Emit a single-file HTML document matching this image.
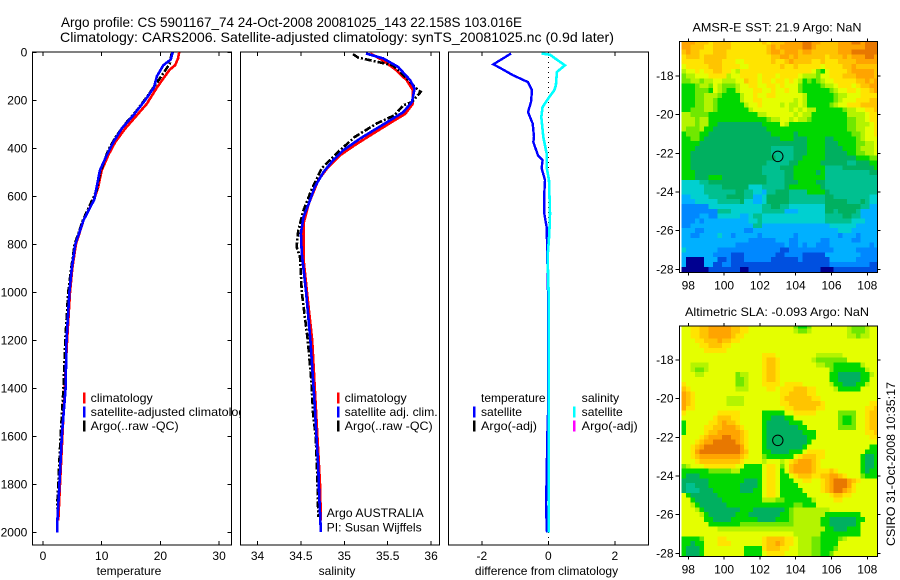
<!DOCTYPE html>
<html>
<head>
<meta charset="utf-8">
<title>Argo profile</title>
<style>
html,body{margin:0;padding:0;background:#fff;}
svg{display:block;font-family:"Liberation Sans",sans-serif;fill:#000;}
text{font-size:12px;}
</style>
</head>
<body>
<svg id="fig" width="900" height="580" viewBox="0 0 900 580" xmlns="http://www.w3.org/2000/svg">
<rect x="0" y="0" width="900" height="580" fill="#fff"/>
<text x="61" y="27" style="font-size:14px" textLength="461" lengthAdjust="spacingAndGlyphs">Argo profile: CS 5901167_74 24-Oct-2008 20081025_143 22.158S 103.016E</text>
<text x="60" y="42" style="font-size:14px" textLength="554" lengthAdjust="spacingAndGlyphs">Climatology: CARS2006. Satellite-adjusted climatology: synTS_20081025.nc (0.9d later)</text>
<g id="p1"></g>
<g id="p2"></g>
<g id="p3"></g>
<g id="m1"></g>
<g id="m2"></g>
<text x="692.5" y="31.5" textLength="169" lengthAdjust="spacingAndGlyphs">AMSR-E SST: 21.9 Argo: NaN</text>
<text x="685" y="316" textLength="184" lengthAdjust="spacingAndGlyphs">Altimetric SLA: -0.093 Argo: NaN</text>
<text transform="translate(895,546) rotate(-90)" textLength="164" lengthAdjust="spacingAndGlyphs">CSIRO 31-Oct-2008 10:35:17</text>
</svg>
<script>
// ---- chart data ----
var depthTicks = [0,200,400,600,800,1000,1200,1400,1600,1800,2000];
var tempTicks = [0,10,20,30];
var salTicks = [34,34.5,35,35.5,36];
var diffTicks = [-2,0,2];
var lonTicks = [98,100,102,104,106,108];
var latTicks = [18,20,22,24,26,28];

var tempClimDepth = [0,26,54,72,109,147,214,262,318,374,429,492,561,612,700,800,900,1000,1200,1400,1600,1800,1950];
var tempClimValue = [23.2,23,22.5,21.6,20.5,19.4,17.7,16,14,12.3,11.1,10,9.4,8.7,6.9,5.6,5,4.6,4.1,3.7,3.3,2.9,2.6];
var tempSatDepth = [0,30,54,100,147,200,262,318,374,429,492,561,612,700,800,900,1000,1200,1400,1600,1800,1950,2000];
var tempSatValue = [22.1,21.75,20.5,19.4,18.9,17.4,15.4,13.4,12,10.85,9.7,9.15,8.75,6.9,5.5,4.9,4.5,4,3.85,3.2,2.8,2.45,2.45];
var tempArgoDepth = [5,47,109,186,242,290,346,408,505,575,700,800,900,1000,1200,1400,1600,1800,1900];
var tempArgoValue = [21.9,21.6,19.9,17.7,16,14.3,12.55,11.1,9.7,9.15,6.8,5.4,4.8,4.3,3.8,3.5,3,2.6,2.4];

var salClimDepth = [5,35,75,117,158,214,257,294,339,387,429,485,533,631,714,860,1000,1200,1400,1600,1800,1950];
var salClimValue = [35.3,35.45,35.6,35.72,35.79,35.79,35.7,35.53,35.33,35.12,34.95,34.8,34.7,34.59,34.53,34.53,34.57,34.63,34.66,34.69,34.72,34.73];
var salSatDepth = [5,26,61,117,151,207,249,283,318,360,408,450,499,561,631,686,755,839,1000,1200,1367,1478,1603,1728,1838,1999];
var salSatValue = [35.25,35.45,35.62,35.76,35.81,35.78,35.68,35.53,35.37,35.18,34.99,34.87,34.76,34.66,34.59,34.53,34.5,34.51,34.56,34.61,34.64,34.66,34.68,34.7,34.71,34.73];
var salArgoDepth = [8,22,36,54,109,150,165,207,221,262,297,353,415,483,575,658,742,811,853,1000,1200,1367,1505,1603,1783,1936];
var salArgoValue = [35.1,35.16,35.33,35.56,35.72,35.83,35.88,35.78,35.68,35.58,35.37,35.12,34.93,34.74,34.62,34.53,34.47,34.45,34.49,34.51,34.58,34.62,34.64,34.67,34.69,34.7];

var diffTempDepth = [5,50,72,96,124,158,207,249,297,353,374,429,450,483,533,589,672,728,783,1000,1505,1600,1783,1880,1962,2000];
var diffTempValue = [-1.12,-1.65,-1.36,-1.06,-0.61,-0.49,-0.52,-0.61,-0.47,-0.43,-0.45,-0.31,-0.17,-0.2,-0.1,-0.12,-0.12,-0.05,-0.04,-0.01,-0.01,-0.03,-0.05,-0.07,-0.05,-0.04];
var diffSalDepth = [5,10,30,54,82,137,158,192,228,270,353,421,478,533,672,756,853,1000,1500,2000];
var diffSalValue = [-0.2,0.05,0.25,0.5,0.26,0.23,0.18,0,-0.17,-0.21,-0.15,-0.05,-0.05,0.02,0.05,0.03,-0.02,0.01,0.01,0.01];

var colorLevels = {'0':'#000090','1':'#0050e0','2':'#0088ff','3':'#00b0ff','4':'#00d0d0','5':'#00c090','6':'#00b060','7':'#00d800','8':'#70e800','9':'#b4f400','a':'#e4ff00','b':'#ffe400','c':'#ffc400','d':'#ffa400','e':'#e87800'};

var sstRows = [
"dddcccbccccbbbbbbbcbcccddddeeddccccdddeedeee",
"ddcccbbccccbbbbbbbbcdcdddddeedcccccddddddeee",
"cdccbbbcccbbbbbbbbbcddcdddcddccccccdddeeeeee",
"bcccbcccccbbbbbbbbbbccddcdccccccbcccdcdddeed",
"bbbbbccccbbbaabbbbbbcbbcdccccbbcbbbccccddddd",
"abbbbbcccbbbbaabbbbbbbcbbcbbbbbabbbbccdccccc",
"9aababbccbba9bbbbbbbbbbbbbbbba87abbbbcdddddc",
"899aaabbbb9aabbbbabbbabbbba9998aabbbcccddddc",
"8899899aa999aacbbabbabbaba978789aabbbbbccdcd",
"7778998a98889aabbaabbabaaa87777899abbbabccdd",
"7778887a98779aaabbaabaabaa877777789aabbabbcd",
"77788999877779aabaabbaaaaaa9777777899aaabbbb",
"77788998777779aabbaaaaaaa9a977777789aaabbbcc",
"777889987777779aabaaaa9a99a97777789aabbbcccc",
"7788899877777779aaaaaaaa9a9a99777777899aabbc",
"9988887777777777799aaaaaa9a99777777779999abb",
"99989977777777777778 9aa9a998777777778899abb".replace(' ','9'),
"99989977666666666677 7a97777777777777889 9ab".replace(' ','7').replace(' ','9'),
"98889776666666666667777777777777777778899aab",
"78887766666666666666777776777777777777889aab",
"77887666666666666666667776667777667777789aaa",
"7777666666666666666666666666777766677778899a",
"7776666666666666666655555666777766667778999a",
"7766666666666666666655555666777766666778899a",
"77666666666666666666655556677777666666677788",
"77666666666666666665555566777776666665566677",
"77666666666666666655556667777777555566666667",
"77766666666666666655555667777767555555555566",
"77766677766666666665555667777777555555555555",
"44445566666666666665555666777766555555555555",
"44444555566666644455555677777776555555555555",
"44444555555566554435566655557777655555555555",
"33444455556666553346666655555555665555555544",
"33344444555556443346666655555555666665556544",
"22222244444444444455665544444444666666665533",
"22222222555444444455555333444444665666653333",
"22223322444443345544444444444444555566553333",
"22232333333333344544444444444444555555444333",
"22333333333333335533333333333333344444433333",
"33322333333333223333333333333333333444333333",
"33223333433233333233333332333333333233323333",
"33333333333333322222233322333332233333223333",
"33333333333322222222222322323322233333333323",
"43333333222222222222221122222222223333322222",
"33333332222111222222211222211111333333332222",
"30000333112111222222111111211111133333322222",
"30000331122111111111111111111111122222222211",
"00000011111110011111111111111110001111111111"
];

var slaRows = [
"aabbccdddddccbbaaaaaaaaaa8778aaaaaaaa98889aa",
"aabbccdddddccbbaaaaaaaaaa9889aaaaaaaa98889aa",
"aabbccdddddcbbaaaaaaaaaaaaaaaaaaaaaaa99899aa",
"aaabbcccdccbbaaaaaaaaaaaaaaaaaaaaaaaaaaaaaaa",
"aaaabbcccbbaaaaaaaaaaaaaaaaaaaaaaaaaaaaaaaaa",
"aaaaabbbbbaaaaaaaaaaaaaaaaaaaaaaaaaaaaaaaaaa",
"aaaaaaaaaaaaaaaaaabbbaaaaaaaaa999999aaaaaaaa",
"aaaaaaaaaaaaaaaaaabccbaaaaaaa98888888aaaaaaa",
"aa9999aaaaaaaaaaaabccbaaaaaaaa9988777777 9aaa".replace(' ',''),
"aa9889aaaaaaaaaaaabccbaaaaaaaaaaa87777777 9aa".replace(' ',''),
"aaa99aaaaaaa899aaabccbaaaaaaaaaaa7766666779a",
"aaaaaaaaaaaa889aaabccbaaaaaaaaaaa7766666 77aa".replace(' ',''),
"baaaaaaaaaaa889aaabbbbabbbbaaaaaa97766677 9aa".replace(' ',''),
"cbaaaaaaaaaa999aaaabbabbbcccbbaaaa977777aaaa",
"dcbaaaaaaaaaaaaaaaaaaabbccccbbaaaaaaaaaaaaaa",
"dcbaaaaaaa9999aaaaaaaabccccccbbaaaaaaaaaaaaa",
"dcbaaaaaaa9999aaaaaaaabbcccccccbaaaaaaaaaabb",
"dbbaaaaaaaaaaaaaaaaaaaabbcccccbbaaaaaaaaabbc",
"baaaaaaabbbbbaaaaa77777aabbbbbaaaaa8888aabcc",
"aaaaaaabcccbbaaaaa7766677aaaaaaaaaa8778aabcc",
"7aaaaabbcdccbaaaaa766666777aaaaaaaa8778aabcc",
"7aaaabbccdddcbaaaa7666666677aaaaaaa8888aabcc",
"7aaaabccdddddcbaaa766666666777aaaaaaaaaaabbc",
"aaaabcdddeeddcbaaa766666666677aaaaaaaaaaaabb",
"aaabcddeeeeedcbaaa76666666667aaaaaaaaaaaaaaa",
"aabcdeeeeeeeedbaaa7666666667aaaaaaaaaaaaaa77",
"aabdeeeeeeeeedcaaa776666777abbbbaaaaaaaaa777",
"aabcdddddddddcbaaa8777777abcccbbaaaaaaaa7667",
"aaabcccccccccbaaaa9aaa9abcdddcbaaaaaaaaa7667",
"89aaabbbbbbbaa7777abba8acddddcbaaaaaaaaa7667",
"777777888889977777abba7acddddcbbbcbaaaaa7677",
"766677777777777777abba77abcccbbccddcbaaa8777",
"666666777777776667abba777aabbaabcdeeedcbaaaa",
"655666777777766667abba7777aaaaabcdeeedbaaaaa",
"655566677777766677abba77777aaaabcdeedcbaaaaa",
"a76666667777777777abba777777aaaaabccbbaaaaaa",
"aa766666677777777799988777777 9aaaabbaaaaaaaa".replace(' ',''),
"aa976666667777777777777778877 7aaaaaaaaaaaaaa".replace(' ',''),
"aaa97666666667776666666789999999 9aaaaaaaaaaa".replace(' ',''),
"aaaa976666667776666666778999999 97777777 7aaa".replace(/ /g,''),
"aaaaa77666677777766667778999999776666667 7aaa".replace(' ',''),
"aaaaaa77777778888888888889999 9977666666 7aaaa".replace(/ /g,''),
"aaaaaaaa9999999999999999999 9999977666777aaaa".replace(' ',''),
"aaaaaaaaaaaaaaaaaaaaaaaaa9999997777777 77aaaa".replace(' ',''),
"77778aaabbaaaaaaaabccccbba99988777789aaaaaaa",
"77677aaabbbaaaaaaabccdcbba9998877 77aaaaaaaaa".replace(' ',''),
"76667aaaaaaaaa7777bcccbbaa999887778aaaaaaaaa",
"76667aaaaaaaaa7777abbbbaaa9998877 8aaaaaaaaaa".replace(' ','')
];

// ---- helpers ----
var NS = 'http://www.w3.org/2000/svg';
function mk(parent, tag, attrs, txt){
  var e = document.createElementNS(NS, tag);
  for (var k in attrs) e.setAttribute(k, attrs[k]);
  if (txt !== undefined) e.textContent = txt;
  parent.appendChild(e);
  return e;
}
function yD(d){ return 52.3 + 0.24 * d; }
function xTemp(v){ return 43 + 5.87 * v; }
function xSal(v){ return 344.3 + 86.8 * (v - 35); }
function xDiff(v){ return 548.3 + 33.25 * v; }
function xLon(v){ return 688.3 + 17.9 * (v - 98); }
function y1Lat(v){ return 76 + 19.33 * (v - 18); }
function y2Lat(v){ return 360 + 19.33 * (v - 18); }

function drawLine(g, xs, ys, fx, color, dash, width, name){
  var pts = [];
  for (var i = 0; i < xs.length; i++) pts.push(fx(xs[i]).toFixed(1) + ',' + yD(ys[i]).toFixed(1));
  var l = mk(g, 'polyline', {points: pts.join(' '), fill: 'none', stroke: color, 'stroke-width': width, 'shape-rendering': 'crispEdges'});
  if (dash) l.setAttribute('stroke-dasharray', dash);
  
  
}

function drawPanel(g, left, right, fx, xticks, yticks, xtitle, xtitleX){
  var bg = mk(g, 'rect', {x: left, y: 52, width: right - left, height: 493, fill: '#fff', stroke: '#000', 'stroke-width': 1, 'shape-rendering': 'crispEdges'});
  
  
  xticks.forEach(function(t){
    var x = fx(t);
    var tk = mk(g, 'line', {x1: x, x2: x, y1: 52, y2: 56, stroke: '#000', 'shape-rendering': 'crispEdges'});
    
    
    var tb = mk(g, 'line', {x1: x, x2: x, y1: 541, y2: 545, stroke: '#000', 'shape-rendering': 'crispEdges'});
    
    
    var lb = mk(g, 'text', {x: x, y: 560, 'text-anchor': 'middle'}, String(t));
    
    
  });
  if (yticks) yticks.forEach(function(t){
    var y = yD(t);
    var a = mk(g, 'line', {x1: left, x2: left + 4, y1: y, y2: y, stroke: '#000', 'shape-rendering': 'crispEdges'});
    
    
    var b = mk(g, 'line', {x1: right - 4, x2: right, y1: y, y2: y, stroke: '#000', 'shape-rendering': 'crispEdges'});
    
    
    var lb = mk(g, 'text', {x: 27.3, y: y + 4, 'text-anchor': 'end'}, String(t));
    
    
  });
  var xl = mk(g, 'text', {x: xtitleX, y: 575, 'text-anchor': 'middle'}, xtitle);
  
  
}

function legendEntry(g, bx, tx, y, color, label, w){
  if (color) {
    var b = mk(g, 'rect', {x: bx, y: y - 9.5, width: 2.5, height: 11, fill: color, 'shape-rendering': 'crispEdges'});
    
    
  }
  var t = mk(g, 'text', {x: tx, y: y, textLength: w, lengthAdjust: 'spacingAndGlyphs'}, label);
  
  
}

function drawMap(g, rows, yLat, top, bottom, name){
  var left = 679.5, right = 877.5;
  var nr = rows.length, nc = 44;
  var latStart = 16.125, lonStart = 97.625, dLat = 12 / nr, dLon = 11 / nc;
  var clipId = 'clip-' + name;
  var defs = mk(g, 'defs', {});
  var cp = mk(defs, 'clipPath', {id: clipId});
  mk(cp, 'rect', {x: left, y: top, width: right - left, height: bottom - top});
  var cells = mk(g, 'g', {'clip-path': 'url(#' + clipId + ')', 'shape-rendering': 'crispEdges'});
  
  
  for (var r = 0; r < nr; r++) {
    for (var c = 0; c < nc; c++) {
      var ch = rows[r].charAt(c) || rows[r].charAt(rows[r].length - 1);
      var x0 = xLon(lonStart + c * dLon), x1 = xLon(lonStart + (c + 1) * dLon);
      var y0 = yLat(latStart + r * dLat), y1 = yLat(latStart + (r + 1) * dLat);
      var cell = mk(cells, 'rect', {x: x0.toFixed(2), y: y0.toFixed(2), width: (x1 - x0 + 0.3).toFixed(2), height: (y1 - y0 + 0.3).toFixed(2), fill: colorLevels[ch] || '#e4ff00'});
      
      
    }
  }
  var fr = mk(g, 'rect', {x: left, y: top, width: right - left, height: bottom - top, fill: 'none', stroke: '#000', 'stroke-width': 1.3, 'shape-rendering': 'crispEdges'});
  
  
  lonTicks.forEach(function(t){
    var x = xLon(t);
    var tk = mk(g, 'line', {x1: x, x2: x, y1: top - 3, y2: top, stroke: '#000', 'shape-rendering': 'crispEdges'});
    
    
    var tb = mk(g, 'line', {x1: x, x2: x, y1: bottom, y2: bottom + 3, stroke: '#000', 'shape-rendering': 'crispEdges'});
    
    
    var lb = mk(g, 'text', {x: x, y: bottom + 17, 'text-anchor': 'middle'}, String(t));
    
    
  });
  latTicks.forEach(function(t){
    var y = yLat(t);
    var a = mk(g, 'line', {x1: left - 4, x2: left, y1: y, y2: y, stroke: '#000', 'shape-rendering': 'crispEdges'});
    
    
    var b = mk(g, 'line', {x1: right, x2: right + 3, y1: y, y2: y, stroke: '#000', 'shape-rendering': 'crispEdges'});
    
    
    var lb = mk(g, 'text', {x: 673.5, y: y + 4, 'text-anchor': 'end'}, '-' + t);
    
    
  });
}

// ---- panels ----
var p1 = document.getElementById('p1');
var p2 = document.getElementById('p2');
var p3 = document.getElementById('p3');

drawPanel(p1, 32.5, 231.5, xTemp, tempTicks, depthTicks, 'temperature', 129);
drawLine(p1, tempClimValue, tempClimDepth, xTemp, '#ff0000', '', 2.6, 'temperature-climatology-line');
drawLine(p1, tempArgoValue, tempArgoDepth, xTemp, '#000000', '7 2 2 2', 2.6, 'temperature-argo-line');
drawLine(p1, tempSatValue, tempSatDepth, xTemp, '#0000ff', '', 2.6, 'temperature-satellite-line');
legendEntry(p1, 83, 90.7, 402, '#ff0000', 'climatology', 62);
legendEntry(p1, 83, 90.7, 416, '#0000ff', 'satellite-adjusted climatology', 161);
legendEntry(p1, 83, 90.7, 430, '#000000', 'Argo(..raw -QC)', 88);

drawPanel(p2, 240.5, 439.5, xSal, salTicks, null, 'salinity', 337);
drawLine(p2, salClimValue, salClimDepth, xSal, '#ff0000', '', 2.6, 'salinity-climatology-line');
drawLine(p2, salArgoValue, salArgoDepth, xSal, '#000000', '7 2 2 2', 2.6, 'salinity-argo-line');
drawLine(p2, salSatValue, salSatDepth, xSal, '#0000ff', '', 2.6, 'salinity-satellite-line');
legendEntry(p2, 337, 344.7, 402, '#ff0000', 'climatology', 62);
legendEntry(p2, 337, 344.7, 416, '#0000ff', 'satellite adj. clim.', 93);
legendEntry(p2, 337, 344.7, 430, '#000000', 'Argo(..raw -QC)', 88);
legendEntry(p2, 0, 326.7, 517, '', 'Argo AUSTRALIA', 97);
legendEntry(p2, 0, 326.7, 531.5, '', 'PI: Susan Wijffels', 95);

drawPanel(p3, 448.5, 648.5, xDiff, diffTicks, null, 'difference from climatology', 546.5);
var zero = mk(p3, 'line', {x1: xDiff(0), x2: xDiff(0), y1: 52, y2: 545, stroke: '#000', 'stroke-dasharray': '1 4', 'shape-rendering': 'crispEdges'});


drawLine(p3, diffTempValue, diffTempDepth, xDiff, '#0000ff', '', 2.4, 'difference-temperature-line');
drawLine(p3, diffSalValue, diffSalDepth, xDiff, '#00ffff', '', 2.6, 'difference-salinity-line');
legendEntry(p3, 0, 481, 402, '', 'temperature', 64.5);
legendEntry(p3, 473, 481, 416, '#0000ff', 'satellite', 41);
legendEntry(p3, 473, 481, 430, '#000000', 'Argo(-adj)', 56);
legendEntry(p3, 0, 581.7, 402, '', 'salinity', 37.5);
legendEntry(p3, 573, 581.7, 416, '#00ffff', 'satellite', 41);
legendEntry(p3, 573, 581.7, 430, '#ff00ff', 'Argo(-adj)', 56);

// ---- maps ----
var m1 = document.getElementById('m1');
var m2 = document.getElementById('m2');
drawMap(m1, sstRows, y1Lat, 41.5, 272.5, 'sst');
drawMap(m2, slaRows, y2Lat, 326, 556.5, 'sla');
var c1 = mk(m1, 'circle', {cx: xLon(103), cy: y1Lat(22.158), r: 5.2, fill: 'none', stroke: '#000', 'stroke-width': 1});


var c2 = mk(m2, 'circle', {cx: xLon(103), cy: y2Lat(22.158), r: 5.2, fill: 'none', stroke: '#000', 'stroke-width': 1});


</script>
</body>
</html>
